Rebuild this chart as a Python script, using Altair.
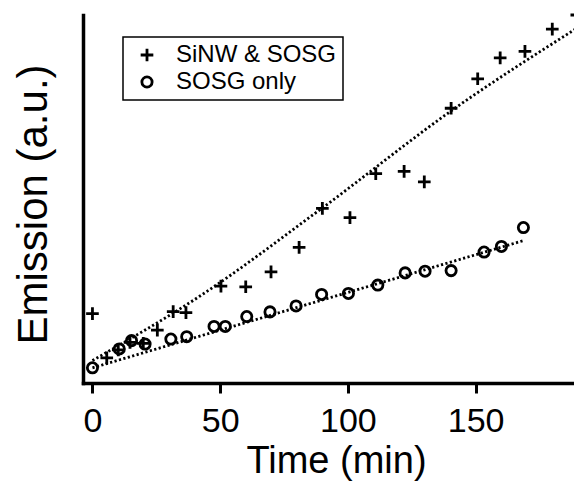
import altair as alt
import pandas as pd

# ---- data ----
series = ["SiNW & SOSG", "SOSG only"]
x_ticks = [0, 50, 100, 150]

sinw_time = [0, 5.6, 10.1, 14.7, 19.9, 25.4, 31.6, 36.6, 50.3, 60.0, 69.9, 80.9,
             90.0, 100.8, 110.9, 122.0, 129.9, 140.4, 150.8, 159.6, 169.3, 180.0, 189.6]
sinw_emission = [70, 25.3, 33.3, 41, 40, 53.3, 72, 71, 97.7, 97, 112, 136.7,
                 176, 166.7, 211, 213.3, 202.7, 277, 306.7, 327.7, 334.3, 356.7, 371]

sosg_time = [0, 10.5, 15.3, 20.6, 30.7, 36.9, 47.6, 52.0, 60.4, 69.5, 79.7, 89.7,
             100.2, 111.7, 122.4, 130.2, 140.4, 153.3, 160.1, 168.7]
sosg_emission = [15.3, 34.3, 42.7, 39.3, 44.3, 46.7, 57, 57, 67, 71.7, 77.7, 89.3,
                 90.3, 98.7, 111, 112.7, 113.3, 132, 137.7, 156.7]

sinw_fit_time = [0, 42.1, 90.1, 140.4, 189.6]
sinw_fit_emission = [22.7, 87.7, 176.7, 274.3, 357.7]
sosg_fit_time = [0, 168.4]
sosg_fit_emission = [15.3, 143.3]

pts = pd.DataFrame({
    "time": sinw_time + sosg_time,
    "emission": sinw_emission + sosg_emission,
    "series": [series[0]] * len(sinw_time) + [series[1]] * len(sosg_time),
})
fits = pd.DataFrame({
    "time": sinw_fit_time + sosg_fit_time,
    "emission": sinw_fit_emission + sosg_fit_emission,
    "fit": [series[0]] * len(sinw_fit_time) + [series[1]] * len(sosg_fit_time),
})

FONT = "Liberation Sans"
PLUS = "M-1,0H1M0,-1V1"

x = alt.X("time:Q",
          scale=alt.Scale(domain=[-3.7, 188.5], nice=False, zero=False),
          axis=alt.Axis(values=x_ticks, title="Time (min)", labelBaseline="alphabetic",
                        labelPadding=38, labelFontSize=34,
                        titleX=253, titleY=89, titleFontSize=38,
                        titleBaseline="alphabetic"))
y = alt.Y("emission:Q",
          scale=alt.Scale(domain=[0, 371], nice=False),
          axis=alt.Axis(labels=False, ticks=False, title="Emission (a.u.)",
                        titleX=-37, titleY=189, titleBaseline="alphabetic",
                        titleAlign="center", titleFontSize=42))

legend = alt.Legend(title=None, orient="none", legendX=40, legendY=22, labelLimit=0)

points = alt.Chart(pts).mark_point(
    filled=False, strokeWidth=2.8, color="black", opacity=1
).encode(
    x=x, y=y,
    shape=alt.Shape("series:N", scale=alt.Scale(domain=series, range=[PLUS, "circle"]),
                    legend=legend),
    size=alt.Size("series:N", scale=alt.Scale(domain=series, range=[160, 105]),
                  legend=legend),
)

lines = alt.Chart(fits).mark_line(
    color="black", strokeWidth=2.8, strokeDash=[2.2, 2.4], interpolate="monotone", clip=True
).encode(x=x, y=y, detail="fit:N")

chart = alt.layer(lines, points).properties(
    width=491, height=368,
    autosize=alt.AutoSizeParams(type="none"),
    padding={"left": 75, "top": 7, "right": 0, "bottom": 98},
).configure_view(stroke=None).configure_axis(
    domainColor="black", domainWidth=3.5, domainCap="square",
    tickColor="black", tickWidth=3, tickSize=10,
    labelFont=FONT, labelColor="black",
    titleFont=FONT, titleFontWeight="normal", titleColor="black",
    grid=False,
).configure_legend(
    strokeColor="black", strokeWidth=1.5, padding=6, rowPadding=3,
    symbolOffset=6, labelOffset=17, labelFont=FONT, labelFontSize=24,
    labelColor="black", symbolStrokeColor="black", symbolStrokeWidth=2.8,
    fillColor="white",
)

chart.save("out.html", embed_options={"renderer": "svg", "actions": False})
